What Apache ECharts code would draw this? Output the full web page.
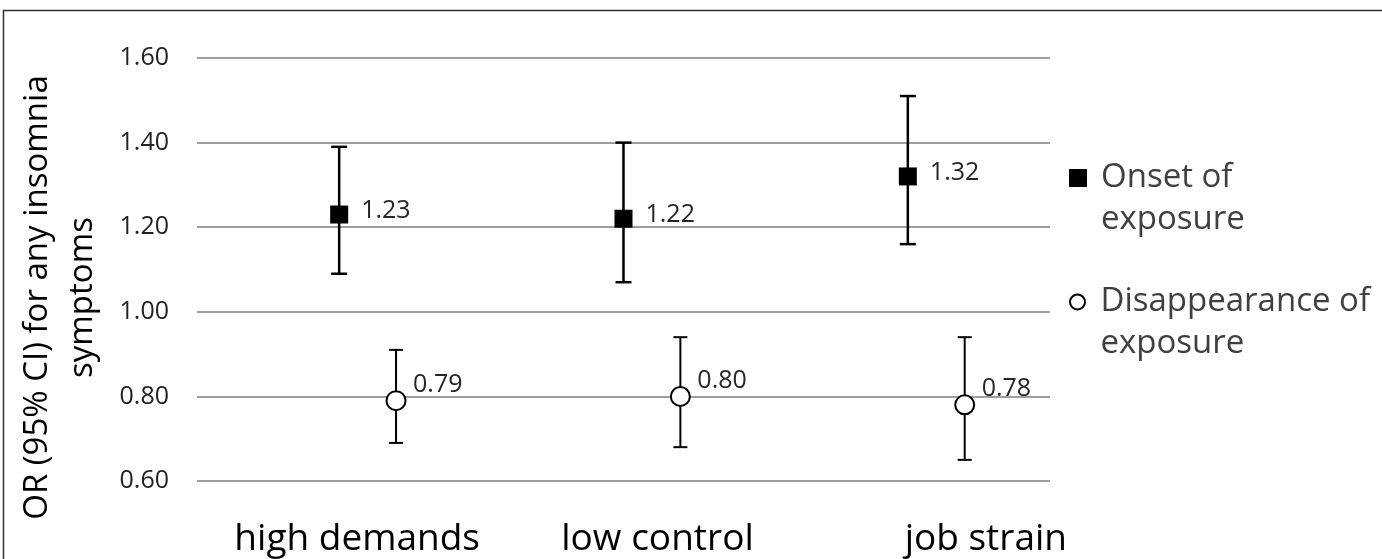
<!DOCTYPE html>
<html><head><meta charset="utf-8">
<script src="https://cdn.jsdelivr.net/npm/echarts@6/dist/echarts.min.js"></script>
<style>html,body{margin:0;padding:0;background:#fff}#c{width:1382px;height:559px}</style>
</head><body><div id="c"></div>
<script>
// ---- data ----
const categories = ['high demands', 'low control', 'job strain'];
const onsetOR   = [1.23, 1.22, 1.32];
const onsetLow  = [1.09, 1.07, 1.16];
const onsetHigh = [1.39, 1.40, 1.51];
const dispOR    = [0.79, 0.80, 0.78];
const dispLow   = [0.69, 0.68, 0.65];
const dispHigh  = [0.91, 0.94, 0.94];
const seriesNames = ['Onset of exposure', 'Disappearance of exposure'];
const legendTexts = ['Onset of\nexposure', 'Disappearance of\nexposure'];
const yAxisTitle = 'OR (95% CI) for any insomnia\nsymptoms';

// ---- styles (not data) ----
const FONT = '"Open Sans", "Noto Sans", sans-serif';
const catLabelShift = [18, 34, 78]; // px shift of category labels to the right

const onsetData = categories.map((c, i) => [i, onsetOR[i], onsetLow[i], onsetHigh[i]]);
const dispData  = categories.map((c, i) => [i, dispOR[i], dispLow[i], dispHigh[i]]);

function makeRender(cfg) {
  return function (params, api) {
    const i = api.value(0);
    const v = api.value(1);
    const c = api.coord([i, v]);
    const bw = api.size([1, 0])[0];
    const x = c[0] + cfg.shift * bw;
    const y = c[1];
    const yLo = api.coord([i, api.value(2)])[1];
    const yHi = api.coord([i, api.value(3)])[1];
    const ls = { stroke: '#000', lineWidth: cfg.barW };
    const h = cfg.cap / 2;
    const marker = cfg.square
      ? { type: 'rect', shape: { x: x - cfg.size / 2, y: y - cfg.size / 2, width: cfg.size, height: cfg.size }, style: { fill: '#000' } }
      : { type: 'circle', shape: { cx: x, cy: y, r: cfg.size / 2 }, style: { fill: '#fff', stroke: '#000', lineWidth: 2 } };
    return {
      type: 'group',
      children: [
        { type: 'line', shape: { x1: x, y1: yHi, x2: x, y2: yLo }, style: ls },
        { type: 'line', shape: { x1: x - h, y1: yHi, x2: x + h, y2: yHi }, style: ls },
        { type: 'line', shape: { x1: x - h, y1: yLo, x2: x + h, y2: yLo }, style: ls },
        marker,
        { type: 'text', x: x + cfg.lx, y: y + cfg.ly,
          style: { text: v.toFixed(2), fill: '#262626', fontSize: 25, fontFamily: FONT, align: 'left', verticalAlign: 'middle' } }
      ]
    };
  };
}

const rich = {};
catLabelShift.forEach((s, i) => {
  rich['c' + i] = { fontSize: 37, fontFamily: FONT, color: '#000', padding: [0, 0, 0, 2 * s] };
});

const chart = echarts.init(document.getElementById('c'), null, { renderer: 'canvas' });
chart.setOption({
  animation: false,
  backgroundColor: '#fff',
  grid: { left: 197, right: 332, top: 58, bottom: 78, containLabel: false, outerBoundsMode: 'none' },
  xAxis: {
    type: 'category',
    data: categories,
    boundaryGap: true,
    axisLine: { show: false },
    axisTick: { show: false },
    axisLabel: {
      margin: 40,
      interval: 0,
      formatter: (val, idx) => '{c' + idx + '|' + val + '}',
      rich: rich
    }
  },
  yAxis: {
    type: 'value',
    min: 0.6, max: 1.6, interval: 0.2,
    axisLine: { show: false },
    axisTick: { show: false },
    splitLine: { lineStyle: { color: '#9e9e9e', width: 2 } },
    axisLabel: {
      margin: 28,
      fontSize: 25, fontFamily: FONT, color: '#222',
      formatter: v => v.toFixed(2)
    },
    name: yAxisTitle,
    nameLocation: 'middle',
    nameGap: 92,
    nameRotate: 90,
    nameTextStyle: { fontSize: 33, fontFamily: FONT, color: '#000', lineHeight: 45, padding: [0, 56, 0, 0] }
  },
  legend: [
    {
      data: [{ name: seriesNames[0], icon: 'path://M0,0H10V10H0Z', itemStyle: { color: '#000' } }],
      left: 1064, top: 110,
      itemWidth: 36, itemHeight: 18, symbolKeepAspect: true,
      formatter: () => '\n' + legendTexts[0],
      textStyle: { fontSize: 33, fontFamily: FONT, color: '#404040', lineHeight: 42 }
    },
    {
      data: [{ name: seriesNames[1], icon: 'circle', itemStyle: { color: '#fff', borderColor: '#000', borderWidth: 2 } }],
      left: 1064, top: 234,
      itemWidth: 36, itemHeight: 15, symbolKeepAspect: true,
      formatter: () => '\n' + legendTexts[1],
      textStyle: { fontSize: 33, fontFamily: FONT, color: '#404040', lineHeight: 42 }
    }
  ],
  graphic: [
    { type: 'rect', shape: { x: 3.5, y: 10.5, width: 1400, height: 600 }, style: { fill: 'none', stroke: '#333', lineWidth: 1.5 }, silent: true }
  ],
  series: [
    {
      name: seriesNames[0], type: 'custom', data: onsetData,
      encode: { x: 0, y: [1, 2, 3] },
      itemStyle: { color: '#000' },
      renderItem: makeRender({ shift: 0, barW: 2.5, cap: 16, size: 18, square: true, lx: 22, ly: -4 })
    },
    {
      name: seriesNames[1], type: 'custom', data: dispData,
      encode: { x: 0, y: [1, 2, 3] },
      itemStyle: { color: '#fff', borderColor: '#000' },
      renderItem: makeRender({ shift: 0.2, barW: 2, cap: 14, size: 19, square: false, lx: 17, ly: -16 })
    }
  ]
});
</script>
</body></html>
